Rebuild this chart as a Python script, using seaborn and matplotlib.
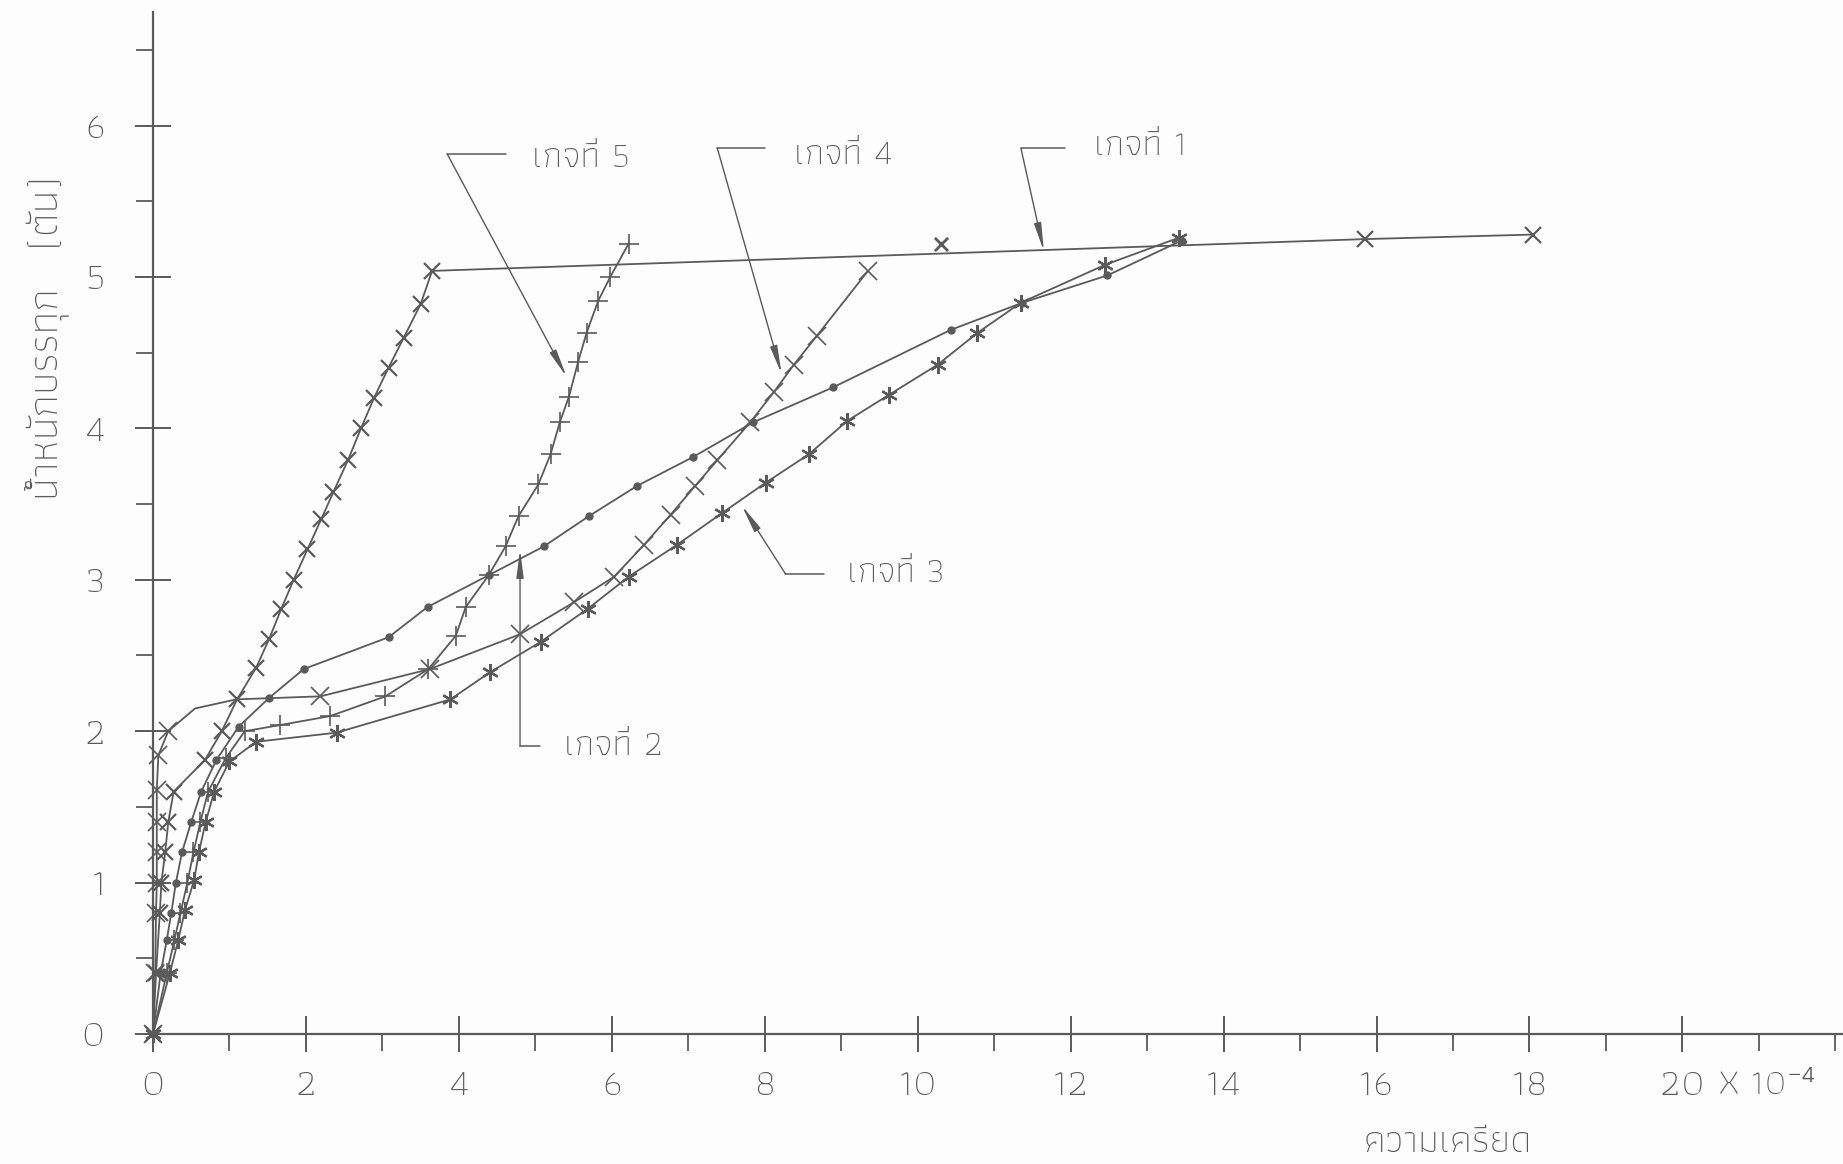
import matplotlib
matplotlib.use("Agg")
import matplotlib.pyplot as plt
from matplotlib import font_manager
from matplotlib.ft2font import FT2Font
from matplotlib.ticker import MultipleLocator, FixedLocator
import seaborn as sns

# ---- load (ton) vs. strain (x 10^-4) for the five strain gauges ----
g1_x = [0.00, 0.04, 0.09, 0.11, 0.16, 0.20, 0.27, 0.68, 0.90, 1.10, 1.35, 1.52, 1.68, 1.84,
        2.02, 2.20, 2.36, 2.55, 2.72, 2.89, 3.08, 3.28, 3.50, 3.65, 15.85, 18.05]
g1_y = [0.00, 0.40, 0.80, 1.00, 1.20, 1.40, 1.60, 1.81, 2.00, 2.21, 2.42, 2.61, 2.81, 3.00,
        3.20, 3.40, 3.58, 3.79, 4.00, 4.20, 4.40, 4.60, 4.82, 5.04, 5.25, 5.28]
g1_extra_x = [10.30]
g1_extra_y = [5.22]

g2_x = [0.00, 0.10, 0.18, 0.24, 0.30, 0.38, 0.50, 0.63, 0.83, 1.12, 1.52, 1.97, 3.08, 3.59,
        4.39, 5.11, 5.70, 6.33, 7.06, 7.85, 8.89, 10.43, 11.37, 12.48, 13.45]
g2_y = [0.00, 0.40, 0.62, 0.80, 1.00, 1.20, 1.40, 1.60, 1.81, 2.03, 2.22, 2.41, 2.62, 2.82,
        3.03, 3.22, 3.42, 3.62, 3.81, 4.04, 4.27, 4.65, 4.83, 5.01, 5.24]

g3_x = [0.00, 0.22, 0.33, 0.42, 0.54, 0.60, 0.69, 0.80, 1.00, 1.35, 2.40, 3.89, 4.41, 5.07,
        5.69, 6.22, 6.85, 7.44, 8.01, 8.58, 9.08, 9.62, 10.26, 10.78, 11.35, 12.45, 13.42]
g3_y = [0.00, 0.40, 0.62, 0.82, 1.02, 1.20, 1.40, 1.60, 1.80, 1.93, 1.99, 2.21, 2.39, 2.59,
        2.81, 3.02, 3.23, 3.44, 3.64, 3.83, 4.05, 4.22, 4.42, 4.63, 4.83, 5.08, 5.26]

g4_x = [0.00, 0.03, 0.04, 0.05, 0.05, 0.05, 0.05, 0.07, 0.20, 0.55, 1.09, 2.19, 3.62, 4.80,
        5.50, 6.03, 6.42, 6.77, 7.09, 7.38, 7.81, 8.12, 8.38, 8.68, 9.35]
g4_y = [0.00, 0.40, 0.80, 1.00, 1.20, 1.40, 1.61, 1.84, 2.00, 2.15, 2.21, 2.23, 2.41, 2.64,
        2.85, 3.02, 3.23, 3.43, 3.62, 3.79, 4.04, 4.24, 4.42, 4.61, 5.04]
g4_unmarked = [9, 10]   # bend of the curve, drawn without a reading mark

g5_x = [0.00, 0.18, 0.28, 0.36, 0.45, 0.53, 0.62, 0.72, 0.95, 1.20, 1.66, 2.32, 3.04, 3.60,
        3.96, 4.09, 4.39, 4.61, 4.78, 5.04, 5.20, 5.32, 5.44, 5.56, 5.67, 5.82, 5.98, 6.22]
g5_y = [0.00, 0.40, 0.62, 0.80, 1.00, 1.20, 1.40, 1.60, 1.82, 2.00, 2.04, 2.10, 2.23, 2.41,
        2.63, 2.82, 3.03, 3.22, 3.42, 3.63, 3.83, 4.04, 4.21, 4.44, 4.63, 4.84, 5.00, 5.22]

gauge_labels = ["เกจที่ 1", "เกจที่ 2", "เกจที่ 3", "เกจที่ 4", "เกจที่ 5"]
x_ticks = [0, 2, 4, 6, 8, 10, 12, 14, 16, 18, 20]
y_ticks = [0, 1, 2, 3, 4, 5, 6]
x_title = "ความเครียด"
y_title = "น้ำหนักบรรทุก   (ตัน)"

INK = "#5a5a5a"


def pick_family(prefs, ch="ก"):
    names = {f.name: f.fname for f in font_manager.fontManager.ttflist}
    for name in prefs:
        if name in names:
            try:
                if ord(ch) in FT2Font(names[name]).get_charmap():
                    return name
            except Exception:
                pass
    return "DejaVu Sans"


THAI = pick_family(["Athiti", "Kanit", "Noto Sans Thai", "Prompt", "Sarabun"])
DIGITS = pick_family(["Athiti", "TeX Gyre Heros Cn", "Liberation Sans Narrow"], ch="5")

sns.set_theme(style="white")
plt.rcParams["font.family"] = [DIGITS, THAI, "DejaVu Sans"]
plt.rcParams["mathtext.fontset"] = "custom"
plt.rcParams["mathtext.rm"] = DIGITS
plt.rcParams["mathtext.it"] = DIGITS

fig = plt.figure(figsize=(18.43, 11.64), dpi=100, facecolor="#fdfdfd")
ax = fig.add_axes([0.083, 0.1117, 0.917, 0.878])
ax.set_facecolor("#fdfdfd")

n4 = len(g4_x)
series = [
    (g1_x, g1_y, "x", 11, 1.6, None),
    (g2_x, g2_y, "o", 5, 1.0, None),
    (g3_x, g3_y, (6, 2, 0), 12, 1.6, None),
    (g4_x, g4_y, "x", 13, 1.2, [i for i in range(n4) if i not in g4_unmarked]),
    (g5_x, g5_y, "+", 14, 1.2, None),
]
for xs, ys, mk, ms, mew, every in series:
    sns.lineplot(x=xs, y=ys, ax=ax, sort=False, estimator=None, color=INK, lw=1.3,
                 marker=mk, markersize=ms, markeredgewidth=mew, markeredgecolor=INK,
                 markerfacecolor=INK, markevery=every, clip_on=False)
sns.scatterplot(x=g1_extra_x, y=g1_extra_y, ax=ax, marker="x", s=90, color=INK,
                linewidth=2.0, clip_on=False)

ax.set_xlim(0, 22.1)
ax.set_ylim(0, 6.75)

for side in ("top", "right"):
    ax.spines[side].set_visible(False)
for side in ("left", "bottom"):
    ax.spines[side].set_color(INK)
    ax.spines[side].set_linewidth(1.6)

ax.xaxis.set_major_locator(FixedLocator(x_ticks))
ax.yaxis.set_major_locator(FixedLocator(y_ticks))
ax.xaxis.set_minor_locator(MultipleLocator(1))
ax.yaxis.set_minor_locator(MultipleLocator(0.5))
ax.tick_params(which="major", direction="inout", length=26, width=1.4, color=INK,
               labelsize=28, labelcolor=INK, bottom=True, left=True)
ax.tick_params(axis="x", which="major", pad=13)
ax.tick_params(axis="y", which="major", pad=21)
ax.tick_params(which="minor", direction="out", length=12, width=1.3, color=INK,
               bottom=True, left=True)
ax.set_xticklabels([str(v) for v in x_ticks])
ax.set_yticklabels([str(v) for v in y_ticks])
for lab in ax.get_xticklabels() + ax.get_yticklabels():
    lab.set_fontweight("light")

# exponent written after the last strain tick
ax.annotate("X 10$^{-4}$", xy=(20.45, 0), xycoords="data", xytext=(0, -52),
            textcoords="offset pixels", ha="left", va="center", fontsize=26,
            color=INK, fontweight="light")

fig.text(47 / 1843, 1 - 338 / 1164, y_title, rotation=90, ha="center", va="center",
         fontsize=30, color=INK, family=[THAI, "DejaVu Sans"], fontweight="light")
fig.text(1448 / 1843, 1 - 1143 / 1164, x_title, ha="center", va="center",
         fontsize=28, color=INK, family=[THAI, "DejaVu Sans"], fontweight="light")

# leader lines: short horizontal stub, then an arrow down to the curve
callouts = [
    # label, stub start, stub end, arrow tip, text position
    (gauge_labels[0], (11.35, 5.85), (11.92, 5.85), (11.65, 5.17), (12.30, 5.86)),
    (gauge_labels[1], (4.80, 1.90), (5.06, 1.90), (4.80, 3.20), (5.37, 1.90)),
    (gauge_labels[2], (8.27, 3.04), (8.77, 3.04), (7.70, 3.49), (9.07, 3.04)),
    (gauge_labels[3], (7.38, 5.85), (8.00, 5.85), (8.22, 4.36), (8.38, 5.80)),
    (gauge_labels[4], (3.85, 5.81), (4.61, 5.81), (5.41, 4.34), (4.95, 5.78)),
]
for label, s0, s1, tip, tpos in callouts:
    ax.plot([s0[0], s1[0]], [s0[1], s1[1]], color=INK, lw=1.1)
    ax.annotate("", xy=tip, xytext=s0,
                arrowprops=dict(arrowstyle="-|>,head_length=1.4,head_width=0.18",
                                color=INK, lw=1.0, shrinkA=0, shrinkB=0))
    ax.text(tpos[0], tpos[1], label, ha="left", va="center", fontsize=26, color=INK,
            family=[THAI, "DejaVu Sans"], fontweight="light")

fig.savefig("out.png", dpi=100, facecolor=fig.get_facecolor())
